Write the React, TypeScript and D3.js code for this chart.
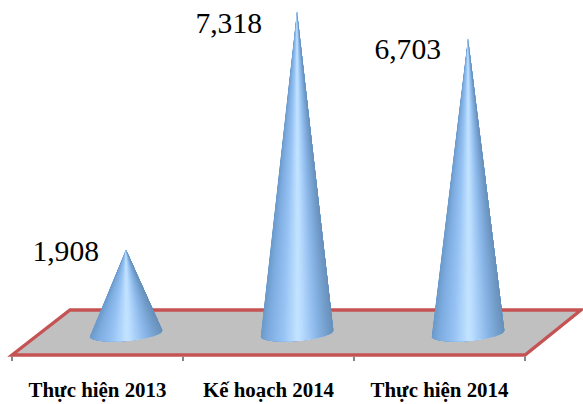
import React from "react";
import * as d3 from "d3";

const categories = ["Thực hiện 2013", "Kế hoạch 2014", "Thực hiện 2014"];
const values = [1908, 7318, 6703];
const valueLabels = ["1,908", "7,318", "6,703"];

const WIDTH = 583;
const HEIGHT = 404;
const FLOOR_FRONT = 355;
const FLOOR_BACK = 310;
const DEPTH_SHIFT_LEFT = 58;
const DEPTH_SHIFT_RIGHT = 56;
const BASELINE = 333.5;
const CONE_RX = 36.5;
const CONE_RY = 7.5;
const TILT_DEG = -5;
const SLICES = 60;

const x = d3.scaleBand<string>().domain(categories).range([12, 525]);
const y = d3.scaleLinear().domain([0, 7318]).range([BASELINE, 11]);

// Shading around the visible half of the cone, from left rim to right rim.
const shade = d3
  .scaleLinear<string>()
  .domain([0, 0.1, 0.3, 0.5, 0.56, 0.75, 0.92, 1])
  .range(["#6a9acb", "#7eace0", "#97c3f4", "#c4e4ff", "#b8dcff", "#8cb8ea", "#719cca", "#6990b8"])
  .interpolate(d3.interpolateRgb);

function conePath(cx: number, apexY: number) {
  const t = (TILT_DEG * Math.PI) / 180;
  const dx = CONE_RX * Math.cos(t);
  const dy = CONE_RX * Math.sin(t);
  const pt = (a: number) => {
    // a runs 0..PI along the front of the rim
    const ex = -CONE_RX * Math.cos(a);
    const ey = CONE_RY * Math.sin(a);
    return [cx + ex * Math.cos(t) - ey * Math.sin(t), BASELINE + ex * Math.sin(t) + ey * Math.cos(t)];
  };
  // Each facet runs from its start angle to the right rim and is painted over
  // the previous one, so neighbouring facets leave no hairline seams.
  const slices = d3.range(SLICES).map((i) => {
    const a0 = (i / SLICES) * Math.PI;
    const a1 = ((i + 1) / SLICES) * Math.PI;
    const [x0, y0] = pt(a0);
    const rest = d3.range(i + 1, SLICES + 1).map((j) => pt((j / SLICES) * Math.PI).join(","));
    return {
      d: `M${cx},${apexY}L${x0},${y0}L${rest.join("L")}Z`,
      color: shade((1 - Math.cos((a0 + a1) / 2)) / 2),
    };
  });
  const outline = `M${cx},${apexY}L${cx - dx},${BASELINE - dy}A${CONE_RX},${CONE_RY} ${TILT_DEG} 0 0 ${cx + dx},${BASELINE + dy}Z`;
  return { slices, outline };
}

function Cone({ cx, apexY, id }: { cx: number; apexY: number; id: string }) {
  const { slices, outline } = conePath(cx, apexY);
  return (
    <g>
      <clipPath id={id}>
        <path d={outline} />
      </clipPath>
      <g clipPath={`url(#${id})`}>
        <path d={outline} fill={slices[0].color} />
        {slices.map((s, i) => (
          <path key={i} d={s.d} fill={s.color} />
        ))}
      </g>
    </g>
  );
}

export default function App() {
  const [x0, x1] = x.range();
  const floor = `M${x0},${FLOOR_FRONT}L${x0 + DEPTH_SHIFT_LEFT},${FLOOR_BACK}L${x1 + DEPTH_SHIFT_RIGHT},${FLOOR_BACK}L${x1},${FLOOR_FRONT}Z`;
  const tickXs = [...categories.map((c) => x(c)!), x1];
  const labelDx = [-27, -35, -27];
  const labelDy = [12, 22, 21];
  return (
    <svg
      width={WIDTH}
      height={HEIGHT}
      viewBox={`0 0 ${WIDTH} ${HEIGHT}`}
      style={{ position: "absolute", left: 0, top: 0, display: "block", background: "#fff" }}
    >
      <path d={floor} fill="#c0c0c0" stroke="#c55353" strokeWidth={3.3} strokeLinejoin="miter" />
      {tickXs.map((t) => (
        <line key={t} x1={t} x2={t} y1={FLOOR_FRONT + 1.5} y2={FLOOR_FRONT + 6} stroke="#868686" strokeWidth={2} />
      ))}
      {categories.map((c, i) => {
        const cx = x(c)! + x.bandwidth() / 2 + 28.5;
        const apex = y(values[i]);
        return (
          <g key={c}>
            <Cone cx={cx} apexY={apex} id={`cone-${i}`} />
            <text
              x={cx + labelDx[i]}
              y={apex + labelDy[i]}
              textAnchor="end"
              fontFamily="'Liberation Serif', serif"
              fontSize={29.6}
              fill="#000"
            >
              {valueLabels[i]}
            </text>
            <text
              x={x(c)! + x.bandwidth() / 2}
              y={396.5}
              textAnchor="middle"
              fontFamily="'Liberation Serif', serif"
              fontWeight="bold"
              fontSize={20.9}
              fill="#000"
            >
              {c}
            </text>
          </g>
        );
      })}
    </svg>
  );
}
